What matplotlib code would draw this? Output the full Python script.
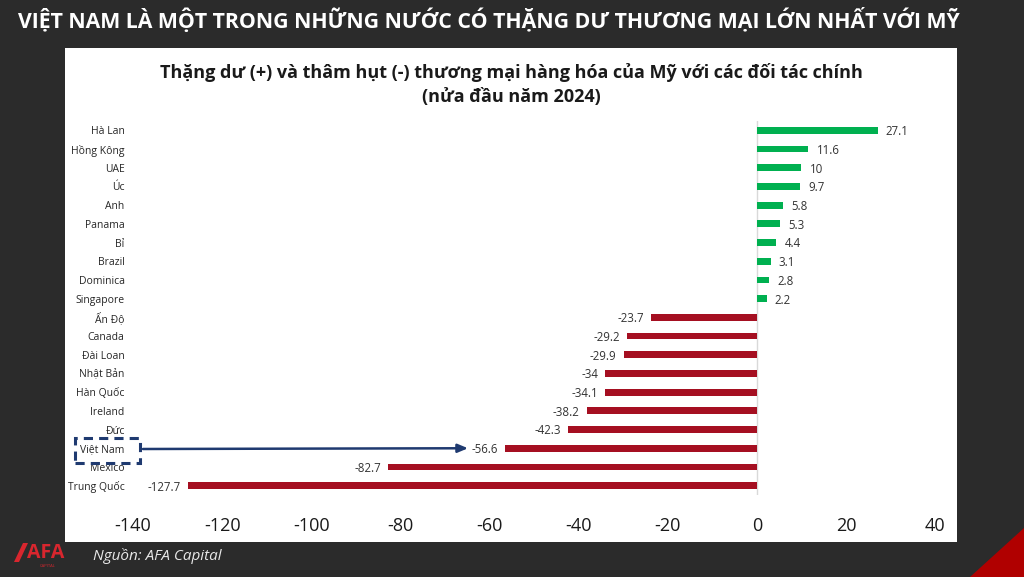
import matplotlib.pyplot as plt
from matplotlib.patches import Rectangle, Polygon

# data
countries = ['Hà Lan', 'Hồng Kông', 'UAE', 'Úc', 'Anh', 'Panama', 'Bỉ', 'Brazil',
             'Dominica', 'Singapore', 'Ấn Độ', 'Canada', 'Đài Loan', 'Nhật Bản',
             'Hàn Quốc', 'Ireland', 'Đức', 'Việt Nam', 'Mexico', 'Trung Quốc']
balance = [27.1, 11.6, 10, 9.7, 5.8, 5.3, 4.4, 3.1, 2.8, 2.2,
           -23.7, -29.2, -29.9, -34, -34.1, -38.2, -42.3, -56.6, -82.7, -127.7]
x_ticks = [-140, -120, -100, -80, -60, -40, -20, 0, 20, 40]

W, H = 1024, 577
BG = '#2b2b2b'
GREEN = '#00b050'
RED = '#a50f21'
NAVY = '#1f3a70'

plt.rcParams['font.family'] = ['Open Sans', 'DejaVu Sans']

fig = plt.figure(figsize=(W / 100, H / 100), dpi=100, facecolor=BG)

# white chart panel
fig.patches.append(Rectangle((65 / W, 1 - 542 / H), (957 - 65) / W, (542 - 48) / H,
                             transform=fig.transFigure, facecolor='white',
                             edgecolor='none', zorder=-2))

# red corner triangle
fig.patches.append(Polygon([(970 / W, 0), (1, 0), (1, 1 - 528 / H)], closed=True,
                           transform=fig.transFigure, facecolor='#b00000',
                           edgecolor='none', zorder=-2))

# headline
fig.text(18 / W, 1 - 20 / H, 'VIỆT NAM LÀ MỘT TRONG NHỮNG NƯỚC CÓ THẶNG DƯ THƯƠNG MẠI LỚN NHẤT VỚI MỸ',
         color='white', fontsize=15.3, fontweight='bold', ha='left', va='center')

# chart title
fig.text(511 / W, 1 - 72 / H,
         'Thặng dư (+) và thâm hụt (-) thương mại hàng hóa của Mỹ với các đối tác chính',
         color='#1a1a1a', fontsize=13, fontweight='bold', ha='center', va='center')
fig.text(511 / W, 1 - 97 / H, '(nửa đầu năm 2024)',
         color='#1a1a1a', fontsize=13, fontweight='bold', ha='center', va='center')

# source + logo
fig.text(93 / W, 1 - 556 / H, 'Nguồn: AFA Capital', color='#e8e8e8', fontsize=11,
         style='italic', ha='left', va='center')
fig.patches.append(Polygon([(14 / W, 1 - 562 / H), (19 / W, 1 - 562 / H),
                            (28 / W, 1 - 543 / H), (23 / W, 1 - 543 / H)], closed=True,
                           transform=fig.transFigure, facecolor='#d8262e',
                           edgecolor='none', zorder=3))
fig.text(46 / W, 1 - 553 / H, 'AFA', color='#d8262e', fontsize=14, fontweight='bold',
         ha='center', va='center')
fig.text(48 / W, 1 - 566 / H, 'CAPITAL', color='#d8262e', fontsize=3, ha='center', va='center')

ax = fig.add_axes([133 / W, 1 - 495 / H, (935 - 133) / W, (495 - 121) / H])
ax.set_facecolor('none')
ax.set_zorder(1)

rows = list(range(len(countries)))
colors = [GREEN if v > 0 else RED for v in balance]
ax.barh(rows, balance, height=0.36, color=colors, zorder=2)

for r, v in zip(rows, balance):
    if v > 0:
        ax.annotate(f'{v:g}', (v, r), xytext=(6, -1), textcoords='offset points',
                    ha='left', va='center', fontsize=8.3, color='#333333')
    else:
        ax.annotate(f'{v:g}', (v, r), xytext=(-5, -1), textcoords='offset points',
                    ha='right', va='center', fontsize=8.3, color='#333333')

ax.axvline(0, color='#d9d9d9', linewidth=1, zorder=1)

ax.set_xlim(-140, 40)
ax.set_ylim(len(countries) - 0.5, -0.5)
ax.set_xticks(x_ticks)
ax.set_xticklabels([str(t) for t in x_ticks])
ax.set_yticks(rows)
ax.set_yticklabels(countries)
ax.tick_params(axis='x', length=0, pad=16, labelsize=13, labelcolor='#1a1a1a')
ax.tick_params(axis='y', length=0, pad=6, labelsize=7.5, labelcolor='#262626')
for s in ax.spines.values():
    s.set_visible(False)

# highlight Vietnam
vn = countries.index('Việt Nam')
fig.patches.append(Rectangle((75 / W, 1 - 463 / H), 65 / W, 25 / H,
                             transform=fig.transFigure, facecolor='none',
                             edgecolor=NAVY, linewidth=2.2, linestyle=(0, (3, 2)),
                             zorder=5))
ax.annotate('', xy=(-64.8, vn), xycoords='data',
            xytext=(143, H - 449), textcoords='figure pixels',
            arrowprops=dict(arrowstyle='-|>,head_length=0.6,head_width=0.25',
                            color=NAVY, linewidth=1.8, shrinkA=0, shrinkB=0))

fig.savefig('out.png', dpi=100, facecolor=BG)
